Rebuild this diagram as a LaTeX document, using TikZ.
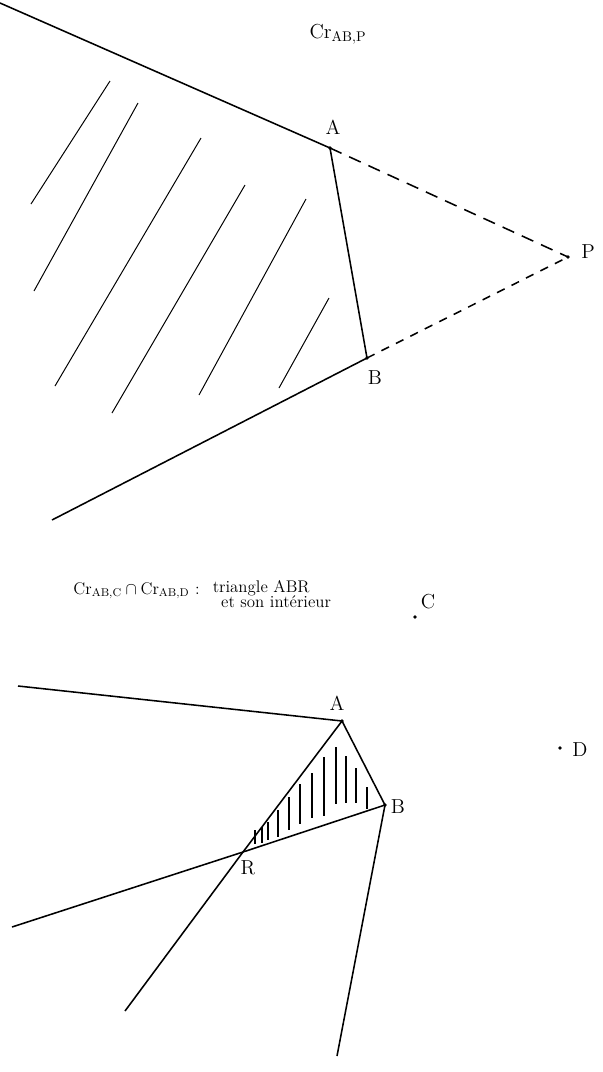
\documentclass[tikz,border=0pt]{standalone}
\begin{document}
\begin{tikzpicture}[x=0.025cm,y=-0.025cm,line width=1.1pt,
  hatch/.style={line width=0.7pt},
  lbl/.style={font=\Large}]
  \useasboundingbox (0,0) rectangle (603,1072);
  % upper figure
  \coordinate (T0) at (0,3);
  \coordinate (A) at (330,148);
  \coordinate (B) at (367,358);
  \coordinate (T1) at (52,520);
  \coordinate (P) at (568,257);
  \draw (T0) -- (A) -- (B) -- (T1);
  \draw[dash pattern=on 9pt off 6pt] (A) -- (P);
  \draw[dash pattern=on 6pt off 5.5pt] (B) -- (P);
  \foreach \pt in {A,B,P} \fill (\pt) circle (1.3pt);
  \node[lbl] (labA) at (333,127) {A};
  \node[lbl] (labB) at (375,378) {B};
  \node[lbl] (labP) at (588,252) {P};
  \node[font=\Large] (title) at (338,34) {$\mathrm{Cr}_{\mathrm{AB,P}}$};
  \foreach \xa/\ya/\xb/\yb in {31/204/110/81, 34/291/138/103, 55/386/201/138,
      112/413/245/185, 199/395/306/199, 279/388/329/298}
    \draw[hatch] (\xa,\ya) -- (\xb,\yb);
  % lower figure
  \node[font=\large, anchor=west] (inter) at (68,591)
    {$\mathrm{Cr}_{\mathrm{AB,C}} \cap \mathrm{Cr}_{\mathrm{AB,D}}$ :};
  \node[anchor=west, align=left, inner sep=0pt, font=\large] (desc) at (212,594)
    {triangle ABR\\[-3pt] \hspace*{6pt}et son intérieur};
  \coordinate (C) at (415,617);
  \coordinate (D) at (560,748);
  \fill (C) circle (1.3pt);
  \fill (D) circle (1.3pt);
  \node[lbl] (labC) at (428,602) {C};
  \node[lbl] (labD) at (580,750) {D};
  \coordinate (U0) at (18,686);
  \coordinate (A2) at (342,721);
  \coordinate (B2) at (385,805);
  \coordinate (R) at (243,852);
  \coordinate (U1) at (12,927);
  \coordinate (U2) at (125,1011);
  \coordinate (U3) at (337,1056);
  \draw (U0) -- (A2) -- (B2) -- (R) -- (U1);
  \draw (A2) -- (R) -- (U2);
  \draw (B2) -- (U3);
  \foreach \pt in {A2,B2} \fill (\pt) circle (1.3pt);
  \node[lbl] (labA2) at (337,703) {A};
  \node[lbl] (labB2) at (398,807) {B};
  \node[lbl] (labR) at (248,868) {R};
  \foreach \x/\yt/\yb in {255/830/844, 262/827/843, 268/822/840, 278/810/837,
      289/797/830, 300/784/824, 312/773/818, 324/757/816, 336/747/804,
      346/756/803, 356/768/803, 367/787/809}
    \draw[hatch,line width=0.9pt] (\x,\yt) -- (\x,\yb);
\end{tikzpicture}
\end{document}
